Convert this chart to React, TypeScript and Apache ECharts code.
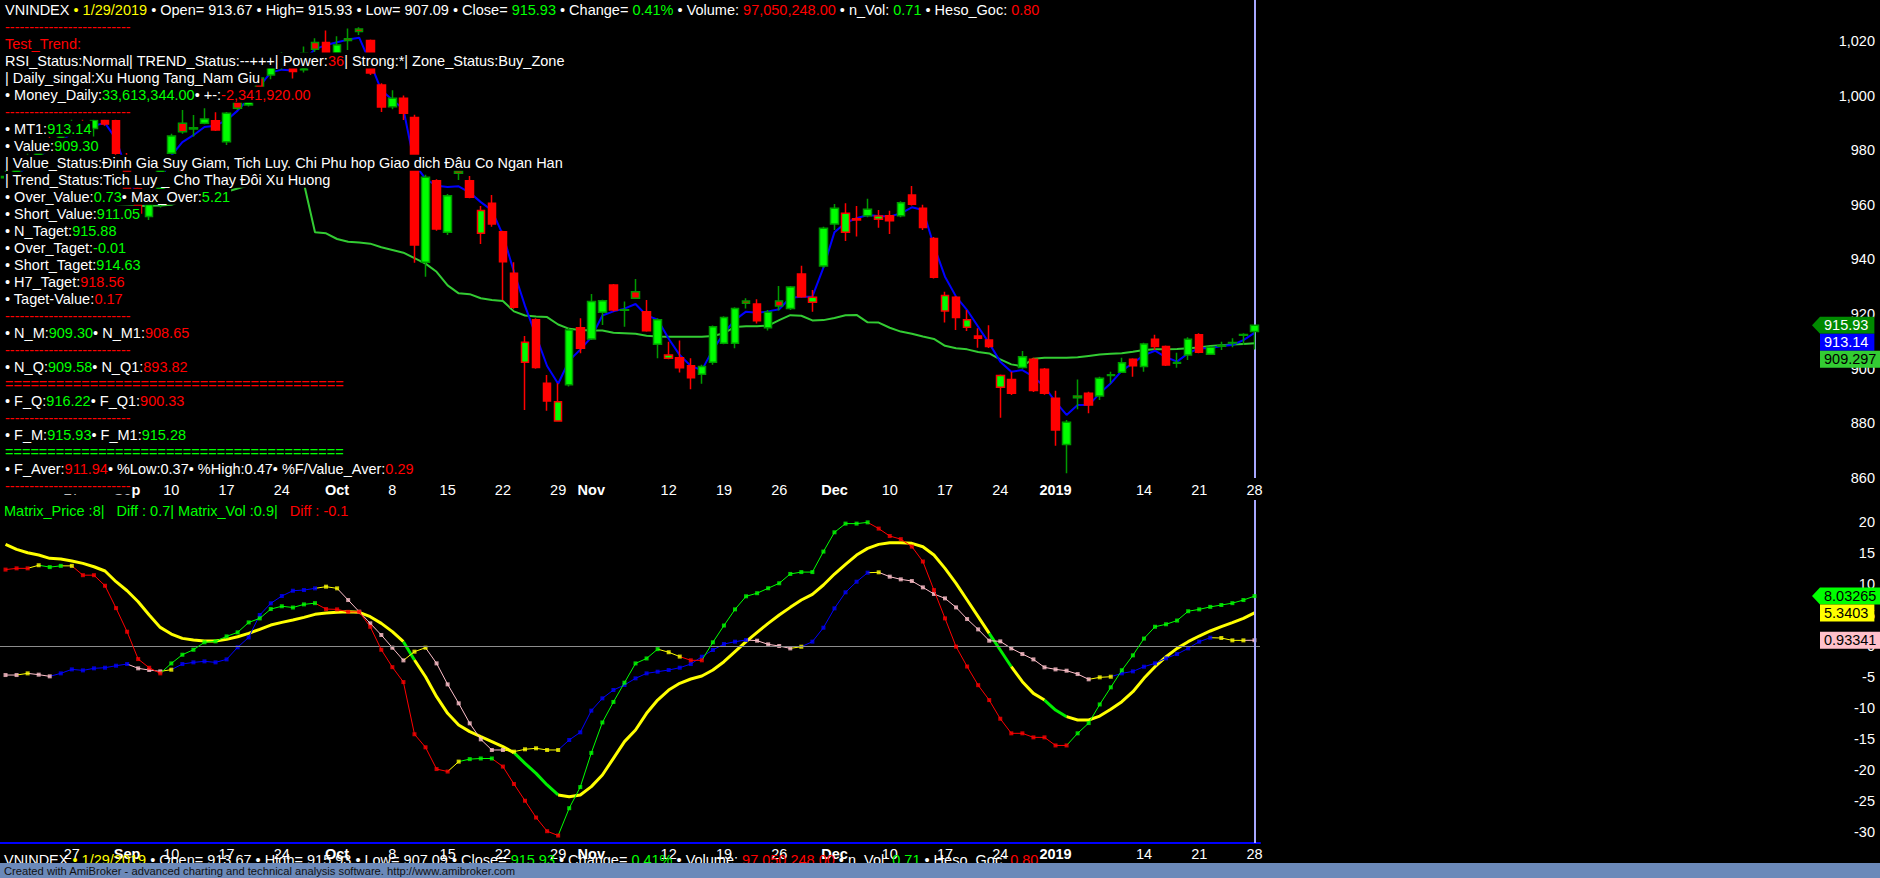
import React, { useEffect, useRef } from "react";
import * as echarts from "echarts";

// ---------------- DATA ----------------
const dates = [
  "8/17","8/20","8/21","8/22","8/23","8/24","8/27","8/28","8/29","8/30","8/31",
  "9/4","9/5","9/6","9/7","9/10","9/11","9/12","9/13","9/14","9/17","9/18","9/19","9/20","9/21","9/24","9/25","9/26","9/27","9/28",
  "10/1","10/2","10/3","10/4","10/5","10/8","10/9","10/10","10/11","10/12","10/15","10/16","10/17","10/18","10/19","10/22","10/23","10/24","10/25","10/26","10/29","10/30","10/31",
  "11/1","11/2","11/5","11/6","11/7","11/8","11/9","11/12","11/13","11/14","11/15","11/16","11/19","11/20","11/21","11/22","11/23","11/26","11/27","11/28","11/29","11/30",
  "12/3","12/4","12/5","12/6","12/7","12/10","12/11","12/12","12/13","12/14","12/17","12/18","12/19","12/20","12/21","12/24","12/25","12/26","12/27","12/28",
  "1/2","1/3","1/4","1/7","1/8","1/9","1/10","1/11","1/14","1/15","1/16","1/17","1/18","1/21","1/22","1/23","1/24","1/25","1/28"
];

const dateTicks: Record<string, string> = {
  "8/27": "27", "9/4": "Sep", "9/10": "10", "9/17": "17", "9/24": "24", "10/1": "Oct", "10/8": "8",
  "10/15": "15", "10/22": "22", "10/29": "29", "11/1": "Nov", "11/12": "12", "11/19": "19", "11/26": "26",
  "12/3": "Dec", "12/10": "10", "12/17": "17", "12/24": "24", "1/2": "2019", "1/14": "14", "1/21": "21", "1/28": "28"
};
const monthTicks = ["Sep", "Oct", "Nov", "Dec", "2019"];

const open = [970.4,970,975,978,983,981,986,990,988,991.1, 990.8,978,966,955.7,960.5,978.9,989.9,987.8,989.9,990.8,
  983.1,1000,996.6,1006.4,1007.5,1010.5,1013,1009.5,1019.4,1019.4, 1015.5,1020.8,1024.4,1020.2,1003.9,995.9,999,992,939,968.8,
  950,972.4,968.8,949.6,960.6,950.2,935,902.4,917.9,894.7, 880.9,894.1,915,910.9,920.7,930.7,921.4,928.2,920.9,909,
  903.8,904,901.1,898,902.4,909.3,909.3,924.8,923.7,915, 924.8,922.1,934.7,924.3,937.6,953,950,954.9,956,954.7,
  956,956,963.6,958.8,947.7,921.1,926.2,915.2,912,910.5, 893.2,896.1,900.5,903.5,899.8,889.2,872.3,890,891,890,
  897.5,898.7,903.5,900.8,910.8,908.1,902,905,912.4,905.3, 908.2,909.4,912.3,913.67];
const close = [969.9,975,978,983,981,986,990,988,991,989.6, 978.9,965,957,960,976,985.2,986.8,988.2,991.4,987.4,
  993.5,995.4,1002,1002.5,1010.5,1014,1008.8,1015.5,1017,1015, 1018.5,1020.2,1023.5,1008.3,995.8,999,993.5,945.3,970.1,951.2,
  963.3,971.6,962.8,957.9,953,939.2,922.5,909.7,900.5,888.2, 887.9,914.2,907.5,924.6,924.9,921.5,921.6,925.8,913.9,917.9,
  905,900.4,896.7,900.8,915.4,918.8,922.1,924,917.6,920.7, 923,929.9,926.4,926.2,951.4,958.8,956.9,954.5,958.4,955.9,
  954.2,960.8,960.2,951.7,933.5,926.8,918.8,917.9,911.2,908.1, 897.5,891,904.4,892,891,877.6,880.4,889.4,886.7,896.5,
  897.8,902.2,901.1,909.1,908.1,901.4,902.3,910.8,906,907.9, 908.5,909.6,912.5,915.93];
const low = [968.4,968.5,973.5,977,979.5,980,985,986.5,985,989, 977,963,955,954.5,959,978.5,986,985,989.5,987,
  981.9,994.7,996,1001,1006,1009.5,1006.3,1008.5,1016,1014, 1014,1016.7,1022.2,1007.5,994,995,991.1,938.8,933.7,950.5,
  949,969.1,962.4,945.7,952,925.2,922,884.9,900,884.6, 880.9,893.5,905.7,910.5,916,921,915.4,925.6,913.5,903.8,
  903.5,898.6,892.5,894.5,901.5,909,907.5,922.1,916.6,914, 921.3,921.5,926,920.9,937,950.8,946.8,948.4,955.5,951.6,
  949.3,955.5,959.8,950.8,933,916.9,914.2,913.8,907.7,907.6, 882.1,890.4,900,891.5,890.5,871.8,861.7,885.2,883.7,888.6,
  894.7,898.5,897.1,898.9,906.9,901,900.4,903.2,905.7,905.2, 906.9,907.9,908.7,907.09];
const high = [973.5,976.5,979.5,984,985,987.5,991.5,992,991.7,991.5, 991.5,979,968,961,977,986,994.7,992.9,995.4,993.9,
  994,1001,1003,1007,1012,1016,1015,1018,1021,1023.8, 1021.7,1024.6,1025,1020.5,1004.5,1002,1000,993,971,969.4,
  964,972.6,970.6,959.6,963.6,950.5,939,912,918.5,897.7, 894.7,915,918.5,927.4,925.3,931,924.6,932.9,925.2,918.5,
  909.9,910.3,903.8,901.5,915.8,919.2,922.5,925.8,925.4,921.5, 930.3,930.3,937.7,928.8,952,960.3,960.6,959.6,962.2,958.1,
  957.8,961.3,966.9,960,948.2,928.2,926.6,921.5,914.8,915.9, 897.9,898.9,906.5,904,900.3,891.9,881.2,896.1,891.6,897.1,
  898.9,904,903.8,909.5,912.4,908.5,905.9,911.5,913,908.2, 909.9,911.2,913,915.93];

// blue line (MT1)
const mt1 = [969,971,974,978,980,983,986.5,988,989,990, 984,972,962,959,968,978,983,985.5,988.5,989,
  991,994.5,999,1003.5,1008.5,1009.5,1009.2,1013,1017,1018.5, 1019.5,1020.5,1021.2,1012,1002,998.5,995,975,969.5,967,
  966.5,966.8,964.5,961,958,949,935.5,923,912,901, 894.5,903,907,911.5,919.5,921,922,923.7,919.5,918,
  911,905,901,899.5,907,913,917.9,920.9,920.5,921, 921.8,926,926.4,926.4,937,950,953.4,955.1,956.3,955.9,
  955.7,956.9,959.1,958.1,945,933.7,926.4,921.5,915.4,909.3, 902.6,898.9,899.5,897.1,893.4,887.9,883.1,886.7,886.7,891,
  894.7,899.3,902,905,906.6,904.2,902.6,905.7,907.5,907.5, 908.3,908.7,910.5,913.14];

// green line (Value)
const valueLine = [955,955.5,956,956.5,957,957.5,958,958.3,958.6,958.9, 959.2,959.4,959.6,959.7,959.8,960,961.5,963,963.8,964.3,
  964.8,966,967.2,968,968.1,968.1,968.1,967.8,950,949.6, 947.5,946.5,946.2,945.8,944.5,943.5,942.5,940.5,938.5,935.5,
  930.5,927.6,927.3,925.8,925.2,924.8,921,919.5,919.1,918.9, 916.2,914.6,914.2,914,914,913.2,913,912.8,912.1,911.8,
  911.7,911.7,911.7,911.7,912,913,915.3,915.6,915.6,915.8, 917.8,919.6,919.4,917.7,917.8,918.6,919.6,919.7,917,916.9,
  915,913.6,912.8,911.8,910.9,908.4,907.5,907.1,906.1,905.6, 903.4,901.6,900.9,903.7,904,904,904,904.2,904.7,905.2,
  905.5,905.7,906.2,906.9,907.1,907.1,907.2,907.5,907.8,908.3, 908.6,908.9,909.1,909.297];

// lower pane: Matrix_Price (red/green), Matrix_Vol (blue/pink), signal (yellow)
const matrixPrice = [12.3,12.5,12.5,13.0,12.7,12.9,12.9,11.4,11.4,9.7, 6.1,2.3,-2.1,-3.5,-4.4,-2.8,-1.4,-0.6,0.6,0.75,
  1.55,2.2,3.8,4.45,5.95,6.4,6.2,6.7,6.9,5.95, 5.9,5.5,5.5,3.1,-0.6,-3.4,-5.8,-14.2,-16.3,-19.8,
  -20.2,-18.6,-18.2,-18.1,-18.1,-19.4,-22.2,-24.9,-27.6,-29.8, -30.5,-26.1,-22.7,-17.2,-12.3,-9.0,-5.9,-2.8,-2.0,-0.5,
  -1.0,-1.7,-2.3,-2.3,0.6,3.3,5.9,8.0,8.5,9.3, 10.1,11.6,11.9,11.9,15.2,18.3,19.7,19.7,19.9,18.9,
  17.7,17.2,16.0,13.6,9.0,4.45,-0.1,-3.3,-6.3,-8.7, -11.7,-14.05,-14.05,-14.7,-14.7,-16.0,-16.0,-14.05,-12.4,-9.4,
  -6.65,-3.9,-1.5,1.2,3.1,3.5,4.1,5.6,5.9,6.3, 6.6,6.9,7.4,8.03265];
const matrixPriceState =
  "RRR" + "Y" + "GG" + "Y" + "RRRRRRRR" + "GGGGGGGGGGGGGG" + "RRRRRRRRRRRR" + "Y" + "GGG" + "RRRRRR" +
  "GGGGGGGGG" + "YY" + "RR" + "GGGGGGGGGGGGGGG" + "RRRRRRRRRRRRRRRRRR" + "GGGGGGGGGGGGGGGGG";

const matrixVol = [-4.67,-4.67,-4.4,-4.61,-4.88,-4.4,-3.76,-3.92,-3.59,-3.49, -3.17,-2.9,-3.59,-3.86,-4.08,-3.81,-2.9,-2.63,-2.47,-2.63,
  -2.15,-0.21,1.39,4.99,6.87,8.05,8.9,9.01,9.28,9.55, 9.28,7.4,5.52,3.65,1.77,-0.27,-2.31,-0.91,-0.27,-2.79,
  -6.17,-9.22,-12.44,-15.02,-16.73,-16.73,-17.0,-16.62,-16.46,-16.73, -16.73,-15.12,-13.89,-10.4,-8.42,-7.08,-6.27,-5.2,-4.4,-4.13,
  -3.86,-3.49,-2.9,-1.72,-0.64,0.32,0.7,0.97,0.86,0.27, 0.0,-0.38,-0.11,0.7,2.95,6.06,8.64,10.35,11.8,11.86,
  11.16,10.73,10.46,9.44,8.37,7.67,6.22,4.34,2.68,0.86, 0.75,-0.38,-1.29,-2.15,-3.43,-3.76,-3.97,-4.51,-5.36,-5.04,
  -4.94,-4.4,-4.08,-3.33,-2.79,-1.98,-1.29,-0.38,0.7,1.34, 1.29,0.91,0.91,0.93341];
const matrixVolState =
  "PP" + "Y" + "PP" + "BBBBBBB" + "PPP" + "Y" + "BBBBBBBBBBBBB" + "YY" + "PPPPPP" + "YY" + "PPPPPPP" + "YYYYY" +
  "BBBBBBBBBBBBBBBBB" + "PPPP" + "Y" + "BBBBBB" + "Y" + "PPPPPPPPPPPPPPPPPPP" + "YY" + "BBBBBBBBB" + "YYY" + "P";

const signal = [16.36,15.55,15.02,14.64,14.11,14.0,13.68,13.3,12.76,12.07, 10.35,8.9,7.13,4.99,3.0,1.93,1.23,0.97,0.8,0.8,
  1.07,1.5,2.04,2.68,3.38,3.81,4.18,4.61,5.1,5.31, 5.42,5.52,5.42,4.72,3.65,2.31,0.7,-2.25,-4.94,-8.15,
  -10.83,-12.71,-13.78,-14.59,-15.39,-16.2,-17.16,-18.88,-20.49,-22.36, -23.97,-24.24,-23.97,-22.63,-20.76,-18.07,-15.39,-13.52,-10.83,-8.69,
  -7.08,-6.0,-5.31,-4.83,-3.86,-2.52,-0.91,0.7,2.2,3.65, 4.99,6.22,7.4,8.32,9.82,11.59,13.14,14.64,15.71,16.36,
  16.63,16.63,16.52,15.98,14.64,12.49,10.08,7.4,4.72,2.04, -0.64,-3.33,-5.74,-7.62,-8.69,-10.3,-11.37,-11.91,-11.91,-11.27,
  -10.19,-8.96,-7.35,-5.2,-3.33,-1.72,-0.38,0.7,1.61,2.42, 3.11,3.76,4.45,5.3403];
const signalState =
  "YYYYYYYYYYYYYYYYYYYYYYYYYYYYYYYYYYYYY" + "G" + "YYYYYYYYY" + "GGGG" +
  "YYYYYYYYYYYYYYYYYYYYYYYYYYYYYYYYYYYYYYY" + "GG" + "YYY" + "GG" + "YYYYYYYYYYYYYYYYY";

const priceTicks = [860, 880, 900, 920, 940, 960, 980, 1000, 1020];
const oscTicks = [-30, -25, -20, -15, -10, -5, 0, 5, 10, 15, 20];

// ---------------- STYLE ----------------
const FONT = "'Liberation Sans', Arial, Helvetica, sans-serif";
const FS = 14.5;
const W = "#ffffff", G = "#00ff00", R = "#ff0000", Y = "#ffff00";

const infoRows: [string, string][][] = [
  [["VNINDEX ", W], ["• 1/29/2019 ", Y], ["• Open= 913.67 • High= 915.93 • Low= 907.09 • Close= ", W], ["915.93 ", G],
   ["• Change= ", W], ["0.41% ", G], ["• Volume: ", W], ["97,050,248.00 ", R], ["• n_Vol: ", W], ["0.71 ", G], ["• Heso_Goc: ", W], ["0.80", R]],
  [["--------------------------", R]],
  [["Test_Trend:", R]],
  [["RSI_Status:Normal| TREND_Status:--+++| Power:", W], ["36", R], ["| Strong:*| Zone_Status:Buy_Zone", W]],
  [["| Daily_singal:Xu Huong Tang_Nam Giu", W]],
  [["• Money_Daily:", W], ["33,613,344.00", G], ["• +-:", W], ["-2,341,920.00", R]],
  [["--------------------------", R]],
  [["• MT1:", W], ["913.14", G]],
  [["• Value:", W], ["909.30", G]],
  [["| Value_Status:Đinh Gia Suy Giam, Tich Luy. Chi Phu hop Giao dich Đâu Co Ngan Han", W]],
  [["| Trend_Status:Tich Luy _ Cho Thay Đôi Xu Huong", W]],
  [["• Over_Value:", W], ["0.73", G], ["• Max_Over:", W], ["5.21", G]],
  [["• Short_Value:", W], ["911.05", G]],
  [["• N_Taget:", W], ["915.88", G]],
  [["• Over_Taget:", W], ["-0.01", G]],
  [["• Short_Taget:", W], ["914.63", G]],
  [["• H7_Taget:", W], ["918.56", R]],
  [["• Taget-Value:", W], ["0.17", R]],
  [["--------------------------", R]],
  [["• N_M:", W], ["909.30", G], ["• N_M1:", W], ["908.65", R]],
  [["--------------------------", R]],
  [["• N_Q:", W], ["909.58", G], ["• N_Q1:", W], ["893.82", R]],
  [["========================================", R]],
  [["• F_Q:", W], ["916.22", G], ["• F_Q1:", W], ["900.33", R]],
  [["--------------------------", R]],
  [["• F_M:", W], ["915.93", G], ["• F_M1:", W], ["915.28", G]],
  [["========================================", G]],
  [["• F_Aver:", W], ["911.94", R], ["• %Low:0.37• %High:0.47• %F/Value_Aver:", W], ["0.29", R]],
  [["--------------------------", R]],
];

const colorKey: Record<string, string> = { [W]: "w", [G]: "g", [R]: "r", [Y]: "y" };

function makeRich(lh: number) {
  const rs: any = {};
  [[W, "w"], [G, "g"], [R, "r"], [Y, "y"]].forEach(([c, k]) => {
    rs[k] = { fill: c, fontSize: FS, fontFamily: FONT, lineHeight: lh };
  });
  return rs;
}

function richText(segs: [string, string][]) {
  return segs.map(([t, c]) => `{${colorKey[c]}|${t}}`).join("");
}

function textRow(segs: [string, string][], x: number, y: number, bg: boolean, z = 100, lh = 16) {
  const style: any = {
    text: richText(segs), rich: makeRich(lh), fontSize: FS, fontFamily: FONT,
    fill: W, align: "left", verticalAlign: "middle", lineHeight: lh,
  };
  if (bg) { style.backgroundColor = "#000"; style.padding = [0, 1, 0, 1]; }
  return { type: "text", x, y, z, silent: true, style };
}

function splitRuns(values: number[], codes: string) {
  const runs: { code: string; data: (number | null)[] }[] = [];
  let start = 0;
  for (let i = 1; i <= values.length; i++) {
    if (i === values.length || codes[i] !== codes[start]) {
      const from = Math.max(0, start - 1);
      runs.push({ code: codes[start], data: values.map((v, j) => (j >= from && j <= i - 1 ? v : null)) });
      start = i;
    }
  }
  return runs;
}

export default function App() {
  const ref = useRef<HTMLDivElement>(null);

  useEffect(() => {
    document.body.style.margin = "0";
    document.body.style.background = "#000";
    if (!ref.current) return;
    const chart = echarts.init(ref.current, undefined, { renderer: "svg" });

    const xLabel = (base: number) => ({
      interval: 0, margin: base, color: W, fontSize: FS, fontFamily: FONT,
      formatter: (val: string) => {
        const t = dateTicks[val];
        if (!t) return "";
        return monthTicks.indexOf(t) >= 0 ? `{b|${t}}` : t;
      },
      rich: { b: { fontWeight: "bold", color: W, fontSize: FS, fontFamily: FONT } },
    });

    const candleData = dates.map((_, i) => {
      const bc = i > 0 && close[i] < close[i - 1] ? "#ff0000" : "#009a00";
      return { value: [open[i], close[i], low[i], high[i]], itemStyle: { borderColor: bc, borderColor0: bc } };
    });

    const lower: any[] = [];
    const sigColors: Record<string, string> = { Y: "#ffff00", G: "#00ee00" };
    splitRuns(signal, signalState).forEach((r, idx) => {
      lower.push({
        type: "line", xAxisIndex: 1, yAxisIndex: 1, data: r.data, showSymbol: false, silent: true, z: 2,
        lineStyle: { color: sigColors[r.code], width: 3 }, itemStyle: { color: sigColors[r.code] },
        ...(idx === 0 ? {
          markLine: {
            silent: true, symbol: ["none", "none"], label: { show: false },
            data: [
              { yAxis: 0, lineStyle: { color: "#8c8c8c", width: 1, type: "solid" } },
              { xAxis: dates[dates.length - 1], lineStyle: { color: "#a8a8ff", width: 2, type: "solid" } },
            ],
          },
        } : {}),
      });
    });
    const volColors: Record<string, string> = { B: "#0000ff", P: "#ffc0cb", Y: "#ffff00" };
    splitRuns(matrixVol, matrixVolState).forEach((r) => {
      lower.push({
        type: "line", xAxisIndex: 1, yAxisIndex: 1, data: r.data, showSymbol: false, silent: true, z: 3,
        lineStyle: { color: volColors[r.code], width: 1 }, itemStyle: { color: volColors[r.code] },
      });
    });
    lower.push({
      type: "scatter", xAxisIndex: 1, yAxisIndex: 1, symbol: "rect", symbolSize: 4, silent: true, z: 4,
      data: matrixVol.map((v, i) => ({ value: [i, v], itemStyle: { color: volColors[matrixVolState[i]] } })),
    });
    const prColors: Record<string, string> = { G: "#00ff00", R: "#ff0000", Y: "#ffff00" };
    splitRuns(matrixPrice, matrixPriceState).forEach((r) => {
      lower.push({
        type: "line", xAxisIndex: 1, yAxisIndex: 1, data: r.data, showSymbol: false, silent: true, z: 5,
        lineStyle: { color: prColors[r.code], width: 1 }, itemStyle: { color: prColors[r.code] },
      });
    });
    lower.push({
      type: "scatter", xAxisIndex: 1, yAxisIndex: 1, symbol: "rect", symbolSize: 4, silent: true, z: 6,
      data: matrixPrice.map((v, i) => ({ value: [i, v], itemStyle: { color: prColors[matrixPriceState[i]] } })),
    });

    const yAxisBase = {
      type: "value", position: "right",
      axisLine: { show: false }, axisTick: { show: false }, splitLine: { show: false },
    };

    chart.setOption({
      animation: false,
      backgroundColor: "#000",
      grid: [
        { left: 0, top: 0, width: 1260, height: 478, outerBoundsMode: "none" },
        { left: 0, top: 500, width: 1260, height: 343, outerBoundsMode: "none" },
      ],
      xAxis: [
        { type: "category", gridIndex: 0, data: dates, axisLine: { show: false, onZero: false }, axisTick: { show: false },
          splitLine: { show: false }, axisLabel: xLabel(4) },
        { type: "category", gridIndex: 1, data: dates,
          axisLine: { show: true, onZero: false, lineStyle: { color: "#0000ff", width: 2 } }, axisTick: { show: false },
          splitLine: { show: false }, axisLabel: xLabel(3) },
      ],
      yAxis: [
        { ...yAxisBase, gridIndex: 0, min: 860, max: 1035,
          axisLabel: { customValues: priceTicks, margin: 615, align: "right", color: W,
            fontSize: FS, fontFamily: FONT, formatter: (v: number) => v.toLocaleString("en-US") } },
        { ...yAxisBase, gridIndex: 1, min: -31.7, max: 23.5,
          axisLabel: { customValues: oscTicks, margin: 615, align: "right",
            color: W, fontSize: FS, fontFamily: FONT, formatter: (v: number) => String(v) } },
      ],
      series: [
        { type: "line", name: "Value", xAxisIndex: 0, yAxisIndex: 0, data: valueLine, showSymbol: false, silent: true,
          z: 2, lineStyle: { color: "#33cc33", width: 2 }, itemStyle: { color: "#33cc33" } },
        { type: "line", name: "MT1", xAxisIndex: 0, yAxisIndex: 0, data: mt1, showSymbol: false, silent: true,
          z: 3, lineStyle: { color: "#0000ff", width: 2 }, itemStyle: { color: "#0000ff" } },
        { type: "candlestick", name: "VNINDEX", xAxisIndex: 0, yAxisIndex: 0, data: candleData, barWidth: 8, z: 5,
          silent: true,
          itemStyle: { color: "#00ff00", color0: "#ff0000", borderColor: "#009a00", borderColor0: "#ff0000", borderWidth: 1.5 },
          markLine: { silent: true, symbol: ["none", "none"], label: { show: false },
            lineStyle: { color: "#a8a8ff", width: 2, type: "solid" }, data: [{ xAxis: dates[dates.length - 1] }] } },
        ...lower,
      ],
    });

    // ---- overlay texts, value tags ----
    const graphics: any[] = [];
    infoRows.forEach((segs, i) => graphics.push(textRow(segs, 4, 9.5 + 17.03 * i, true)));
    graphics.push(textRow([["Matrix_Price :8|   ", G], ["Diff : 0.7| Matrix_Vol :0.9|   ", G], ["Diff : -0.1", R]], 4, 511, false));
    // title repeated along the lower date axis (as in the reference), partly hidden by the footer
    graphics.push(textRow(infoRows[0], 4, 860, false, 50));

    const tag = (yc: number, text: string, fill: string, tc: string, arrow: boolean) => {
      const w = text.length * 8.06 + 6;
      const x0 = 1820;
      const pts = arrow
        ? [[1812, yc], [x0, yc - 8.5], [x0 + w, yc - 8.5], [x0 + w, yc + 8.5], [x0, yc + 8.5]]
        : [[x0, yc - 8.5], [x0 + w, yc - 8.5], [x0 + w, yc + 8.5], [x0, yc + 8.5]];
      graphics.push({ type: "polygon", z: 110, silent: true, shape: { points: pts }, style: { fill } });
      graphics.push({ type: "text", z: 111, silent: true, x: x0 + 4, y: yc,
        style: { text, fill: tc, fontSize: FS, fontFamily: FONT, align: "left", verticalAlign: "middle" } });
    };
    const last = dates.length - 1;
    const pTop = (v: number) => chart.convertToPixel({ yAxisIndex: 0 } as any, v) as number;
    const pBot = (v: number) => chart.convertToPixel({ yAxisIndex: 1 } as any, v) as number;
    const y1 = pTop(close[last]);
    const y2 = Math.max(pTop(mt1[last]), y1 + 17);
    const y3 = Math.max(pTop(valueLine[last]), y2 + 17);
    tag(y1, String(close[last]), "#008a00", "#ffffff", true);
    tag(y2, String(mt1[last]), "#0000ff", "#ffffff", false);
    tag(y3, String(valueLine[last]), "#33cc33", "#000000", false);
    const b1 = pBot(matrixPrice[last]);
    const b2 = Math.max(pBot(signal[last]), b1 + 17);
    const b3 = Math.max(pBot(matrixVol[last]), b2 + 17);
    tag(b1, String(matrixPrice[last]), "#00ff00", "#000000", true);
    tag(b2, String(signal[last]), "#ffff00", "#000000", false);
    tag(b3, String(matrixVol[last]), "#ffc0cb", "#000000", false);

    graphics.push({ type: "rect", z: 120, silent: true, shape: { x: 0, y: 863, width: 1880, height: 15 }, style: { fill: "#6b89b9" } });
    graphics.push({ type: "text", z: 121, silent: true, x: 4, y: 871,
      style: { text: "Created with AmiBroker - advanced charting and technical analysis software. http://www.amibroker.com",
        fill: "#111111", fontSize: 11.2, fontFamily: FONT, align: "left", verticalAlign: "middle" } });

    chart.setOption({ graphic: graphics });

    return () => chart.dispose();
  }, []);

  return (
    <div style={{ position: "fixed", left: 0, top: 0, width: 1880, height: 878, background: "#000" }}>
      <div ref={ref} style={{ width: 1880, height: 878 }} />
    </div>
  );
}
